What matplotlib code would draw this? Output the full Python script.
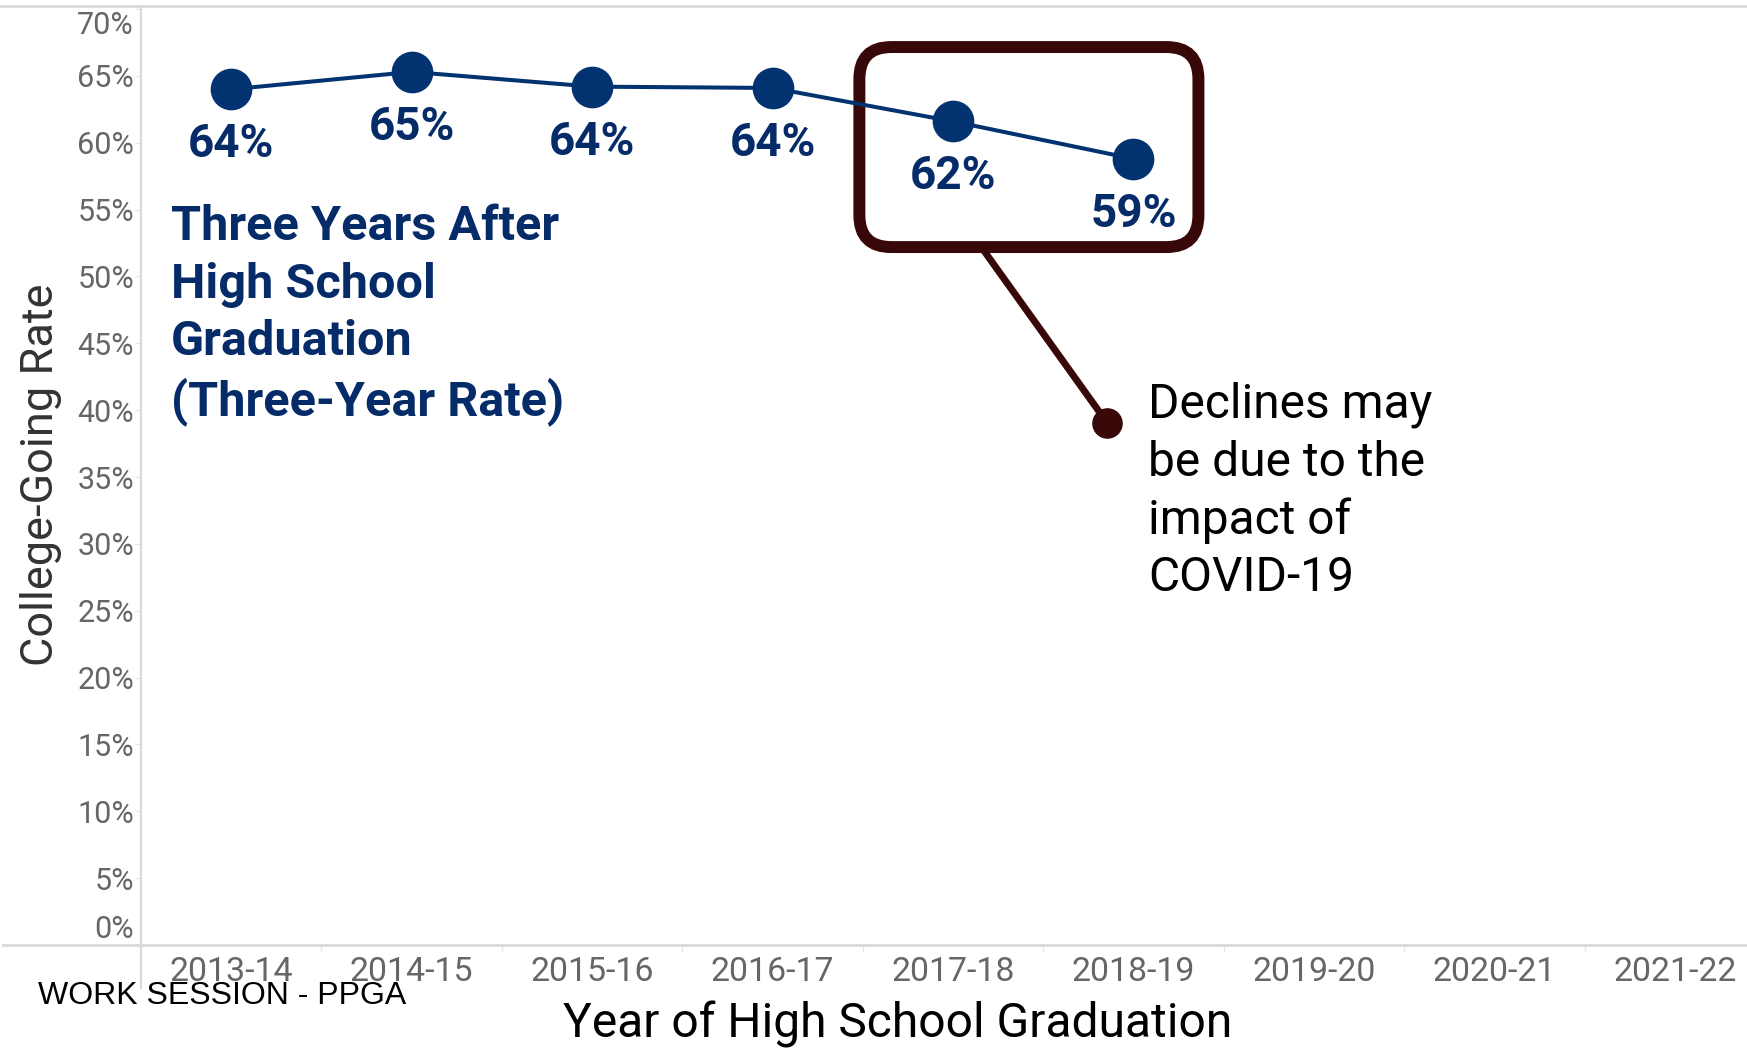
import matplotlib
matplotlib.use("Agg")
import matplotlib.pyplot as plt
from matplotlib.lines import Line2D
from matplotlib.patches import FancyBboxPatch
from matplotlib.transforms import ScaledTranslation

plt.rcParams['font.family'] = ['Roboto', 'DejaVu Sans']

# --- data ---
years = ['2013-14', '2014-15', '2015-16', '2016-17', '2017-18',
         '2018-19', '2019-20', '2020-21', '2021-22']
rates = [0.640, 0.653, 0.642, 0.641, 0.616, 0.588]
y_ticks = [0.00, 0.05, 0.10, 0.15, 0.20, 0.25, 0.30, 0.35,
           0.40, 0.45, 0.50, 0.55, 0.60, 0.65, 0.70]
y_tick_labels = [f'{t * 100:.0f}%' for t in y_ticks]

series_title = 'Three Years After\nHigh School\nGraduation\n(Three-Year Rate)'
note_text = 'Declines may\nbe due to the\nimpact of\nCOVID-19'

NAVY = '#02326f'
NAVY_TEXT = '#052b68'
MAROON = '#380707'
RULE = '#d9d9d9'
TICK_GRAY = '#666666'

W, H = 1747, 1049
fig = plt.figure(figsize=(W / 100, H / 100), dpi=100)
ax_left, ax_bottom, ax_top = 141 / W, 1 - 945 / H, 1 - 5.6 / H
ax = fig.add_axes([ax_left, ax_bottom, 1 - ax_left, ax_top - ax_bottom])

xs = list(range(len(years)))
ax.set_xlim(-0.5, 8.4)
ax.set_ylim(0, 0.7026)

# main series
ax.plot(xs[:len(rates)], rates, color=NAVY, lw=2.9, marker='o', ms=29,
        mfc=NAVY, mec=NAVY, zorder=3)
for xi, r in zip(xs, rates):
    ax.annotate(f'{r * 100:.0f}%', (xi, r), xytext=(0, -49),
                textcoords='offset points', ha='center', va='baseline',
                fontsize=33, fontweight='bold', color=NAVY_TEXT, zorder=4)

# multi-line blocks are anchored on the baseline of their last line
ax.text(-0.333, 0.396, series_title, ha='left', va='baseline',
        fontsize=35, fontweight='bold', color=NAVY_TEXT, linespacing=1.32)

# callout box around the last two years
fig.canvas.draw()
px_x = ax.transData.transform((1, 0))[0] - ax.transData.transform((0, 0))[0]
px_y = ax.transData.transform((0, 1))[1] - ax.transData.transform((0, 0))[1]
box = FancyBboxPatch((3.481, 0.522), 5.360 - 3.481, 0.6716 - 0.522,
                     boxstyle=f'round,pad=0,rounding_size={32 / px_x}',
                     mutation_aspect=px_x / px_y, transform=ax.transData,
                     fill=False, ec=MAROON, lw=8.6, zorder=2, clip_on=False)
ax.add_patch(box)
ax.plot([4.157, 4.855], [0.522, 0.3904], color=MAROON, lw=5,
        solid_capstyle='butt', zorder=2)
ax.plot([4.855], [0.3904], marker='o', ms=21, color=MAROON, zorder=2)
ax.text(5.08, 0.2645, note_text, ha='left', va='baseline', fontsize=34.5,
        color='black', linespacing=1.32)

# axes styling
for side in ['top', 'right', 'bottom', 'left']:
    ax.spines[side].set_visible(False)
ax.add_line(Line2D([0, 0], [-(988 - 945) / (945 - 5.6), 1], transform=ax.transAxes,
                   color=RULE, lw=1.6, clip_on=False))
fig.add_artist(Line2D([0.002, 1], [ax_bottom, ax_bottom], color=RULE, lw=2))
fig.add_artist(Line2D([0, 1], [ax_top, ax_top], color=RULE, lw=2))

ax.set_yticks(y_ticks, y_tick_labels)
ax.tick_params(axis='y', length=4, width=1, color='#e6e6e6', pad=1,
               labelsize=22, labelcolor=TICK_GRAY)
ax.set_xticks(xs, years)
ax.set_xticks([i + 0.5 for i in xs[:-1]], minor=True)
ax.tick_params(axis='x', which='major', length=0, pad=8,
               labelsize=24.4, labelcolor=TICK_GRAY)
ax.tick_params(axis='x', which='minor', length=5, width=1, color='#e6e6e6')

# nudge the end labels inside the frame
for tick in ax.yaxis.get_major_ticks():
    txt = tick.label1.get_text()
    if txt == '0%':
        tick.label1.set_transform(tick.label1.get_transform()
                                  + ScaledTranslation(0, 0.19, fig.dpi_scale_trans))
    elif txt == '70%':
        tick.label1.set_transform(tick.label1.get_transform()
                                  + ScaledTranslation(0, -0.13, fig.dpi_scale_trans))

fig.text(41 / W, 1 - 475 / H, 'College-Going Rate', rotation=90,
         ha='center', va='center', fontsize=32.5, color='#333333')
fig.text(898 / W, 1 - 1037 / H, 'Year of High School Graduation',
         ha='center', va='baseline', fontsize=34.6, color='black')
fig.text(38 / W, 1 - 1004 / H, 'WORK SESSION - PPGA', ha='left',
         va='baseline', fontsize=23, color='black', family='Liberation Sans')

fig.savefig('out.png', dpi=100)
